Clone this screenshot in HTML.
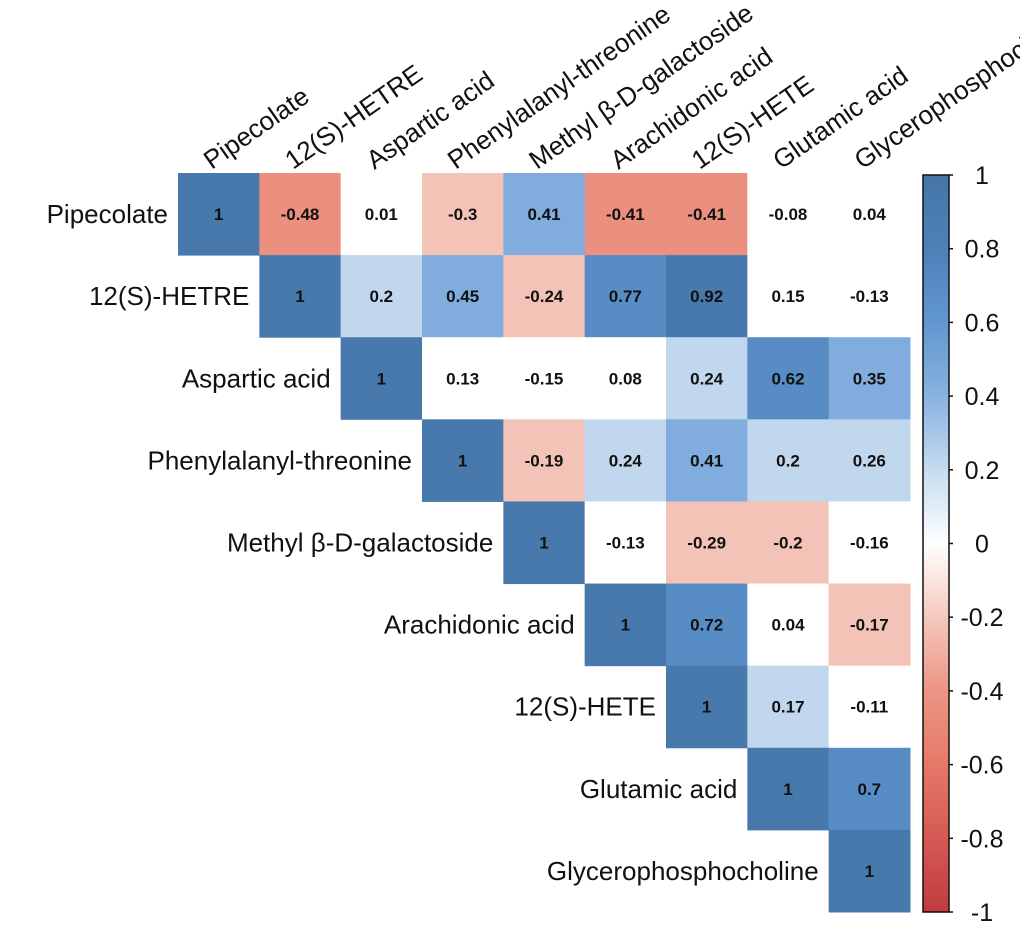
<!DOCTYPE html>
<html><head><meta charset="utf-8"><style>
body{margin:0;background:#fff;}
svg{display:block;font-family:"Liberation Sans",Arial,sans-serif;}
</style></head><body>
<svg id="c" width="1020" height="934" viewBox="0 0 1020 934"></svg>
<script>
const labels=["Pipecolate","12(S)-HETRE","Aspartic acid","Phenylalanyl-threonine","Methyl β-D-galactoside","Arachidonic acid","12(S)-HETE","Glutamic acid","Glycerophosphocholine"];
const row0=[1,-0.48,0.01,-0.3,0.41,-0.41,-0.41,-0.08,0.04];
const row1=[1,0.2,0.45,-0.24,0.77,0.92,0.15,-0.13];
const row2=[1,0.13,-0.15,0.08,0.24,0.62,0.35];
const row3=[1,-0.19,0.24,0.41,0.2,0.26];
const row4=[1,-0.13,-0.29,-0.2,-0.16];
const row5=[1,0.72,0.04,-0.17];
const row6=[1,0.17,-0.11];
const row7=[1,0.7];
const row8=[1];
const rows=[row0,row1,row2,row3,row4,row5,row6,row7,row8];
const ticks=[1,0.8,0.6,0.4,0.2,0,-0.2,-0.4,-0.6,-0.8,-1];

const NS="http://www.w3.org/2000/svg";
const svg=document.getElementById('c');
const X0=178,X1=910,Y0=173,Y1=912,n=labels.length;
const cw=(X1-X0)/n,ch=(Y1-Y0)/n;
const xc=i=>X0+i*cw, yc=j=>Y0+j*ch;
function mk(t,a){const e=document.createElementNS(NS,t);for(const k in a)e.setAttribute(k,a[k]);svg.appendChild(e);return e;}
const stops=[[-1,[194,59,63]],[-0.6,[230,120,104]],[-0.4,[236,149,132]],[-0.2,[245,200,189]],[0,[255,255,255]],[0.2,[198,219,240]],[0.4,[136,178,224]],[0.6,[97,151,207]],[0.8,[78,128,184]],[1,[70,118,168]]];
function grad(v){for(let i=0;i<stops.length-1;i++){const[a,ca]=stops[i],[b,cb]=stops[i+1];if(v<=b){const t=(v-a)/(b-a);return 'rgb('+ca.map((c,k)=>Math.round(c+(cb[k]-c)*t)).join(',')+')';}}return 'rgb(70,118,168)';}
function binned(v){const a=Math.abs(v),s=Math.sign(v);let b;if(a<0.165)b=0;else if(a<0.33)b=0.22;else if(a<0.55)b=0.44;else if(a<0.85)b=0.7;else b=0.95;return grad(s*b);}
rows.forEach((r,i)=>{r.forEach((v,k)=>{const j=i+k;
 const rc=mk('rect',{x:xc(j),y:yc(i),width:cw+0.5,height:ch+0.5,fill:binned(v)});
 
 
 const t=mk('text',{x:xc(j)+cw/2,y:yc(i)+ch/2+6,'text-anchor':'middle','font-size':17,'font-weight':'bold',fill:'#111'});
 t.textContent=String(v);
 
 
});});
labels.forEach((l,i)=>{
 const t=mk('text',{x:xc(i)-10,y:yc(i)+ch/2+9,'text-anchor':'end','font-size':26,fill:'#111'});
 t.textContent=l;
 
 
 const cx=xc(i)+cw/2-7,cy=Y0-3;
 const u=mk('text',{x:cx,y:cy,'font-size':26,fill:'#111',transform:'rotate(-35 '+cx+' '+cy+')'});
 u.textContent=l;
 
 
});
const BX=923,BW=26,BT=175,BB=912;
const by=v=>BT+(1-v)/2*(BB-BT);
const defs=mk('defs',{});const lg=document.createElementNS(NS,'linearGradient');lg.setAttribute('id','g');lg.setAttribute('x1',0);lg.setAttribute('y1',1);lg.setAttribute('x2',0);lg.setAttribute('y2',0);defs.appendChild(lg);
stops.forEach(([v,c])=>{const s=document.createElementNS(NS,'stop');s.setAttribute('offset',(v+1)/2);s.setAttribute('stop-color','rgb('+c.join(',')+')');lg.appendChild(s);});
const cb=mk('rect',{x:BX,y:BT,width:BW,height:BB-BT,fill:'url(#g)',stroke:'#111','stroke-width':1.5});


ticks.forEach(v=>{mk('line',{x1:BX+BW,x2:BX+BW+4,y1:by(v),y2:by(v),stroke:'#111','stroke-width':1.5});
 const t=mk('text',{x:982,y:by(v)+9,'text-anchor':'middle','font-size':25,fill:'#111'});
 t.textContent=String(v);
 
 
});
</script></body></html>
